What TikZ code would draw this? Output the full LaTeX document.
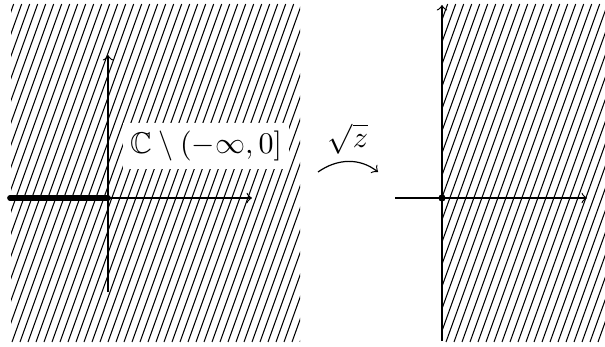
\documentclass[tikz,border=0pt]{standalone}
\usepackage{amssymb}
\begin{document}
\begin{tikzpicture}[x=0.3333pt,y=-0.3333pt,
  hatch/.style={line width=0.35pt},
  axis/.style={line width=0.4pt,->},
  lbl/.style={fill=white,inner sep=2.5pt}]
\useasboundingbox (0,0) rectangle (605,347);
% left hatched region
\begin{scope}
\clip (11,4) rectangle (300,342);
\foreach \i in {-140,-132,...,310}
  \draw[hatch] (\i,342) -- ({\i+0.36*338},4);
\end{scope}
% right hatched region
\begin{scope}
\clip (442,4) rectangle (605,342);
\foreach \i in {302,310,...,620}
  \draw[hatch] (\i,342) -- ({\i+0.36*338},4);
\end{scope}
% left axes
\coordinate (lo) at (108,198);
\coordinate (lx0) at (10,198);
\coordinate (lx1) at (252,198);
\coordinate (ly0) at (108,292);
\coordinate (ly1) at (108,55);
\draw[axis] (lx0) -- (lx1);
\draw[axis] (ly0) -- (ly1);
\draw[line width=1.9pt,line cap=round] (lx0) -- (lo);
\node[lbl] (dom) at (206,146) {$\mathbb{C}\setminus(-\infty,0]$};
% map arrow
\coordinate (ma) at (318,172);
\coordinate (mb) at (378,172);
\draw[->,line width=0.4pt] (ma) .. controls (338,158) and (360,158) .. (mb);
\node (map) at (348,139) {$\sqrt{z}$};
% right axes
\coordinate (ro) at (442,198);
\coordinate (rx0) at (395,198);
\coordinate (rx1) at (587,198);
\coordinate (ry0) at (442,341);
\coordinate (ry1) at (442,5);
\draw[axis] (rx0) -- (rx1);
\draw[axis] (ry0) -- (ry1);
\fill (ro) circle (3.6);
\end{tikzpicture}
\end{document}
